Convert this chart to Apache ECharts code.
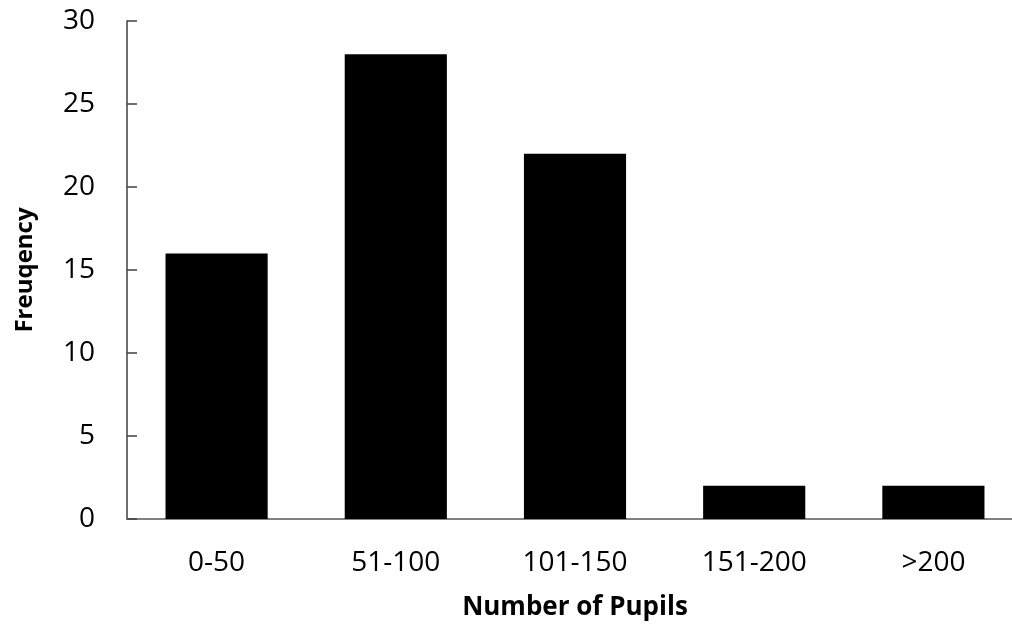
<!DOCTYPE html>
<html><head><meta charset="utf-8">
<script src="https://cdn.jsdelivr.net/npm/echarts@6/dist/echarts.min.js"></script>
<style>html,body{margin:0;padding:0;background:#fff}#c{width:1012px;height:630px}</style>
</head><body><div id="c"></div>
<script>
const categories = ['0-50','51-100','101-150','151-200','>200'];
const frequency = [16, 28, 22, 2, 2];
const yTicks = {min: 0, max: 30, interval: 5};
const xTitle = 'Number of Pupils';
const yTitle = 'Freuqency';

const chart = echarts.init(document.getElementById('c'), null, {renderer:'canvas'});
const font = '"Open Sans", "Liberation Sans", sans-serif';
chart.setOption({
  animation: false,
  grid: {left: 127, width: 896, top: 21, height: 498, containLabel: false, outerBoundsMode: 'none'},
  xAxis: {
    type: 'category', data: categories,
    axisLine: {lineStyle: {color: '#808080', width: 2}},
    axisTick: {show: false},
    axisLabel: {color: '#000', fontSize: 28, fontFamily: font, margin: 30},
    name: xTitle, nameLocation: 'middle', nameGap: 76,
    nameTextStyle: {color: '#000', fontSize: 26, fontWeight: 'bold', fontFamily: font}
  },
  yAxis: {
    type: 'value', min: yTicks.min, max: yTicks.max, interval: yTicks.interval,
    axisLine: {show: true, lineStyle: {color: '#404040', width: 1.5}},
    axisTick: {show: true, inside: true, length: 10, lineStyle: {color: '#404040', width: 1.5}},
    splitLine: {show: false},
    axisLabel: {color: '#000', fontSize: 28, fontFamily: font, margin: 32},
    name: yTitle, nameLocation: 'middle', nameGap: 90, nameRotate: 90,
    nameTextStyle: {color: '#000', fontSize: 24, fontWeight: 'bold', fontFamily: font}
  },
  series: [{
    type: 'bar', data: frequency, barCategoryGap: '43%',
    itemStyle: {color: '#000'}
  }]
});
</script></body></html>
